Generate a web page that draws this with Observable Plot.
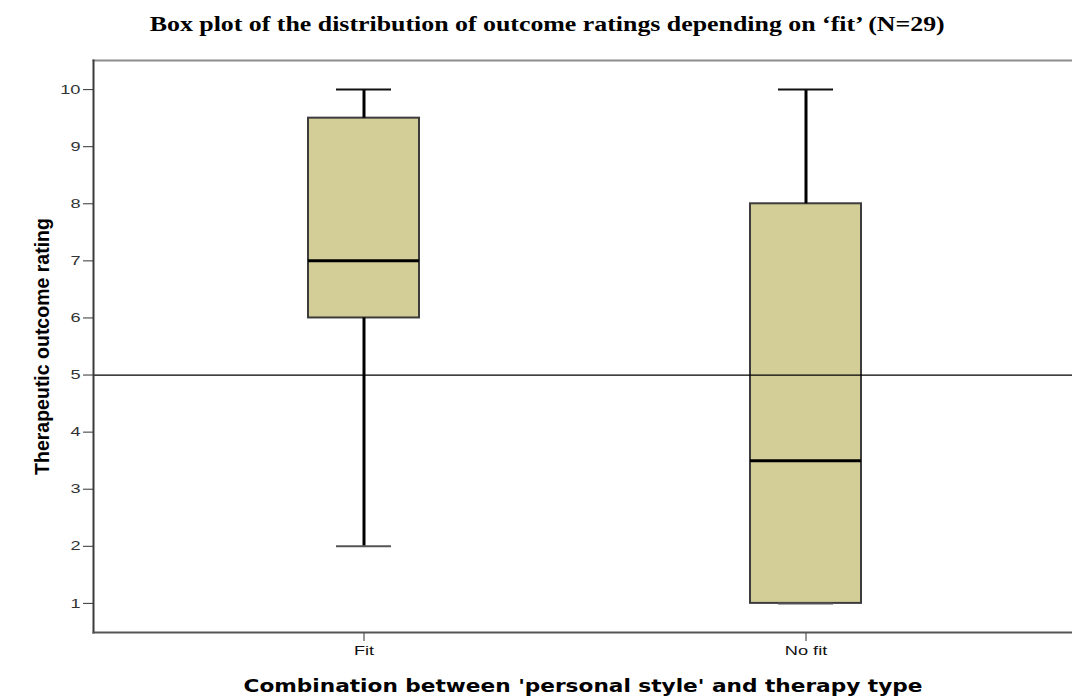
<!DOCTYPE html>
<html>
<head>
<meta charset="utf-8">
<script src="https://cdn.jsdelivr.net/npm/d3@7"></script>
<script src="https://cdn.jsdelivr.net/npm/@observablehq/plot@0.6"></script>
<style>
  html, body { margin: 0; padding: 0; background: #fff; overflow: hidden; }
  #title { width: 1072px; height: 44px; box-sizing: border-box; padding-top: 14px; padding-left: 22px; text-align: center;
           font-family: "Liberation Serif", "Times New Roman", serif; font-weight: bold; font-size: 22px; line-height: 20px; color: #000; }
  #title span { display: inline-block; transform-origin: center; white-space: nowrap; }
  #chart svg { display: block; }
</style>
</head>
<body>
<div id="title"><span>Box plot of the distribution of outcome ratings depending on ‘fit’ (N=29)</span></div>
<div id="chart"></div>
<script>
// ---- data ----
const categories   = ["Fit", "No fit"];
const whiskerLow   = [2, 1];
const quartile1    = [6, 1];
const medians      = [7, 3.5];
const quartile3    = [9.5, 8];
const whiskerHigh  = [10, 10];
const yTicks       = [1, 2, 3, 4, 5, 6, 7, 8, 9, 10];
const referenceLine = [5];
const xTitle = "Combination between 'personal style' and therapy type";
const yTitle = "Therapeutic outcome rating";

const rows = categories.map((c, i) => ({
  cat: c, lo: whiskerLow[i], q1: quartile1[i], med: medians[i], q3: quartile3[i], hi: whiskerHigh[i]
}));

const svg = Plot.plot({
  width: 1072,
  height: 653,
  marginTop: 16,
  marginLeft: 93,
  marginRight: 0,
  marginBottom: 65,
  style: { fontFamily: "Arial, 'Liberation Sans', sans-serif", fontSize: "13px", color: "#222", background: "#fff" },
  x: { type: "band", domain: categories, range: [93, 1076], paddingInner: 0.75, paddingOuter: 0.4845, label: null },
  y: { domain: [0.49, 10.51], label: null },
  marks: [
    Plot.frame({ anchor: "top", stroke: "#8c8c8c", strokeWidth: 2 }),
    Plot.barY(rows, { x: "cat", y1: "q1", y2: "q3", fill: "#d3ce97", stroke: "#3c3c3c", strokeWidth: 2 }),
    Plot.ruleX(rows, { x: "cat", y1: "q3", y2: "hi", stroke: "#000", strokeWidth: 3 }),
    Plot.ruleX(rows, { x: "cat", y1: "lo", y2: "q1", stroke: "#000", strokeWidth: 3 }),
    Plot.tickY(rows, { x: "cat", y: "hi", insetLeft: 28, insetRight: 28, stroke: "#111", strokeWidth: 2 }),
    Plot.tickY(rows, { x: "cat", y: "lo", insetLeft: 28, insetRight: 28, stroke: "#555", strokeWidth: 2 }),
    Plot.tickY(rows, { x: "cat", y: "med", stroke: "#000", strokeWidth: 3 }),
    Plot.ruleY(referenceLine, { stroke: "#000", strokeWidth: 1.2 }),
    Plot.axisY({ ticks: yTicks, tickSize: 10, tickPadding: 3, stroke: "#333", fill: "#333", label: null, className: "yticks" }),
    Plot.axisX({ tickSize: 9, tickPadding: 4, stroke: "#333", fill: "#111", label: null, className: "xticks" }),
    Plot.frame({ anchor: "left", stroke: "#3a3a3a", strokeWidth: 2 }),
    Plot.frame({ anchor: "bottom", stroke: "#555", strokeWidth: 2 }),
    Plot.text([yTitle], { frameAnchor: "left", textAnchor: "middle", rotate: -90, dx: -51, fontWeight: "bold", fontSize: 19.5,
                          fontFamily: "Arial, 'Liberation Sans', sans-serif", fill: "#000", className: "ytitle" }),
    Plot.text([xTitle], { frameAnchor: "bottom", lineAnchor: "bottom", dy: 59, fontWeight: "bold", fontSize: 17,
                          fontFamily: "'DejaVu Sans', Verdana, sans-serif", fill: "#000", className: "xtitle" })
  ]
});
document.getElementById("chart").appendChild(svg);

// horizontal stretch of texts to match the reference's widened rendering
d3.select(svg).select(".xtitle text").attr("textLength", 679).attr("lengthAdjust", "spacingAndGlyphs");
d3.select(svg).selectAll(".yticks text, .xticks text").each(function () {
  const len = this.getComputedTextLength();
  this.setAttribute("textLength", (len * 1.4).toFixed(1));
  this.setAttribute("lengthAdjust", "spacingAndGlyphs");
});
const span = document.querySelector("#title span");
const w = span.getBoundingClientRect().width;
span.style.transform = `scaleX(${795 / w})`;
</script>
</body>
</html>
